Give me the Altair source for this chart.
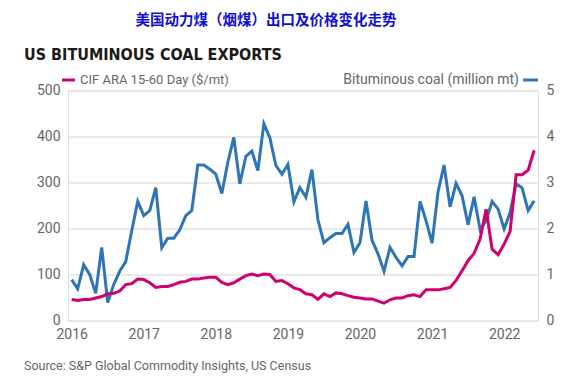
import altair as alt
import pandas as pd

# ---- data ----
months = pd.date_range("2016-01-01", periods=78, freq="MS").strftime("%Y-%m").tolist()

cif_price = [45.5, 43.5, 45.5, 45.5, 49, 52, 58, 59, 64, 78, 80, 90,
             89, 82, 72, 74, 74, 78, 83, 85, 90, 90, 92.5, 94,
             94, 83, 78, 82, 90, 97.5, 101, 97.5, 101, 100, 85, 87,
             80, 71, 67, 58, 56, 46, 58, 52, 60, 58, 54, 50.6,
             49, 47, 47, 42, 37.6, 45, 49, 49, 54, 56, 52, 66.6,
             66.6, 66.6, 69, 72, 87, 108, 130, 146, 177, 242, 155, 143,
             166, 194, 317, 317, 327, 370]

coal_exports = [0.89, 0.69, 1.21, 1.0, 0.59, 1.59, 0.39, 0.78, 1.07, 1.28, 1.95, 2.59,
                2.28, 2.39, 2.89, 1.58, 1.79, 1.79, 1.97, 2.28, 2.39, 3.38, 3.38, 3.29,
                3.18, 2.76, 3.44, 3.98, 2.97, 3.57, 3.68, 3.26, 4.28, 3.97, 3.37, 3.18,
                3.39, 2.58, 2.89, 2.68, 3.28, 2.19, 1.69, 1.8, 1.89, 1.89, 2.09, 1.48,
                1.69, 2.6, 1.75, 1.45, 1.07, 1.59, 1.37, 1.19, 1.39, 1.39, 2.59, 2.17,
                1.68, 2.8, 3.38, 2.47, 2.98, 2.71, 2.08, 2.69, 1.97, 2.17, 2.59, 2.42,
                1.99, 2.35, 2.97, 2.88, 2.39, 2.6]

year_ticks = [2016, 2017, 2018, 2019, 2020, 2021, 2022]
price_ticks = [0, 100, 200, 300, 400, 500]
coal_ticks = [0, 1, 2, 3, 4, 5]

cn_title = "美国动力煤（烟煤）出口及价格变化走势"
en_title = "US BITUMINOUS COAL EXPORTS"
price_label = "CIF ARA 15-60 Day ($/mt)"
coal_label = "Bituminous coal (million mt)"
source = "Source: S&P Global Commodity Insights, US Census"

PINK = "#D0006F"
BLUE = "#2E75B6"
GRAY = "#666666"
FONT = "Roboto"

dt = pd.to_datetime(months)
df = pd.DataFrame({
    "month": months,
    "year": dt.year + (dt.month - 1) / 12.0,
    "cif": cif_price,
    "coal": coal_exports,
})

x_enc = alt.X("year:Q",
              scale=alt.Scale(domain=[2015.949, 2022.47], nice=False, zero=False),
              axis=alt.Axis(values=year_ticks, format="d", grid=False, domain=False,
                            ticks=False, labelPadding=7, title=None,
                            labelColor=GRAY, labelFontSize=14, labelFont=FONT))

base = alt.Chart(df)

blue = base.mark_line(color=BLUE, strokeWidth=3).encode(
    x=x_enc,
    y=alt.Y("coal:Q", scale=alt.Scale(domain=[0, 5], nice=False),
            axis=alt.Axis(orient="right", values=coal_ticks, grid=False, domain=False,
                          ticks=False, labelPadding=8, title=None,
                          labelColor=GRAY, labelFontSize=14, labelFont=FONT)),
)

pink = base.mark_line(color=PINK, strokeWidth=3).encode(
    x=x_enc,
    y=alt.Y("cif:Q", scale=alt.Scale(domain=[0, 500], nice=False),
            axis=alt.Axis(orient="left", values=price_ticks, grid=True, gridColor="#e2e2e2",
                          gridWidth=1.5, domain=False, ticks=False, labelPadding=8, title=None,
                          labelColor=GRAY, labelFontSize=14, labelFont=FONT)),
)


def text_layer(txt, x, y, **kw):
    return alt.Chart(pd.DataFrame({"t": [txt]})).mark_text(**kw).encode(
        x=alt.value(x), y=alt.value(y), text="t:N")


def swatch(color, x1, x2, y):
    return alt.Chart(pd.DataFrame({"c": [color]})).mark_rule(
        color=color, strokeWidth=3).encode(x=alt.value(x1), x2=alt.value(x2), y=alt.value(y))


t_cn = text_layer(cn_title, 198, -70, font="Noto Sans CJK SC", fontSize=14.5,
                  fontWeight="bold", color="#1010D0", align="center", baseline="middle")
t_en = text_layer(en_title, -44, -31, font="DejaVu Sans Condensed, sans-serif",
                  fontSize=16, fontWeight="bold", color="#1a1a1a", align="left",
                  baseline="alphabetic")
t_leg1 = text_layer(price_label, 12, -10.5, font=FONT, fontSize=13, color=GRAY,
                    align="left", baseline="middle")
t_leg2 = text_layer(coal_label, 451, -10.5, font=FONT, fontSize=14, color=GRAY,
                    align="right", baseline="middle")
sw1 = swatch(PINK, -6, 7, -10.5)
sw2 = swatch(BLUE, 455, 470, -10.5)
t_src = text_layer(source, -44, 275.5, font=FONT, fontSize=12.5, color=GRAY,
                   align="left", baseline="middle")

chart = alt.layer(blue, pink, t_cn, t_en, t_leg1, t_leg2, sw1, sw2, t_src).resolve_scale(
    y="independent"
).properties(
    width=470, height=230,
    autosize=alt.AutoSizeParams(type="none"),
    padding={"left": 60, "top": 82.5, "right": 39, "bottom": 55},
).configure_view(strokeWidth=0).configure(background="white")

chart.save("out.html", embed_options={"renderer": "svg", "actions": False})
